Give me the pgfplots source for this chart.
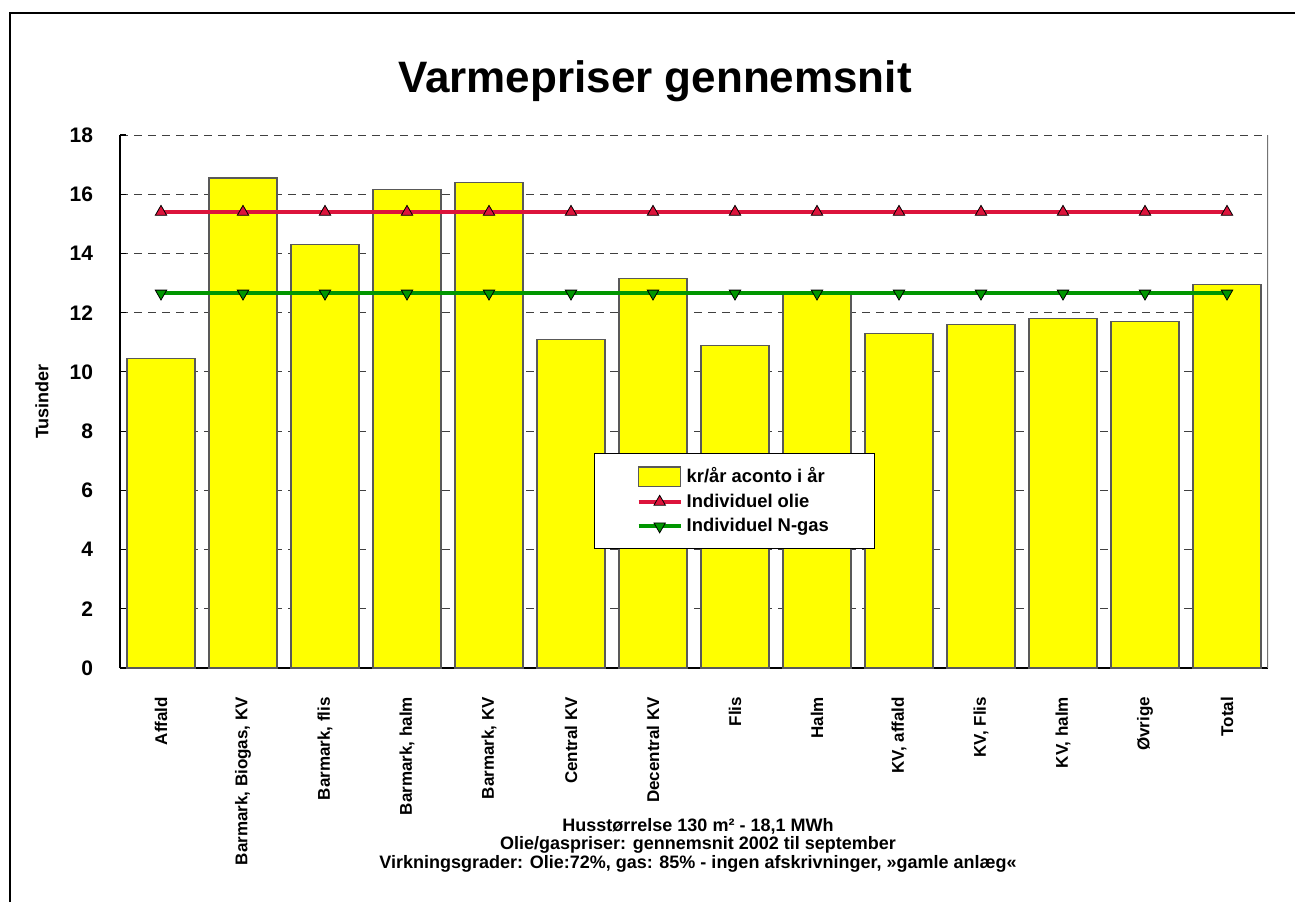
\documentclass[border=0pt]{standalone}
\usepackage{fontspec}
\setmainfont{Liberation Sans}
\usepackage{pgfplots}
\pgfplotsset{compat=1.18}
\definecolor{barfill}{RGB}{255,255,0}
\definecolor{olie}{RGB}{220,20,60}
\definecolor{ngas}{RGB}{0,150,0}
\pgfplotsset{
  boxlegend/.style={legend image code/.code={\draw[##1] (0cm,-0.17cm) rectangle (0.74cm,0.17cm);}},
  linelegend/.style={legend image code/.code={\draw[mark repeat=2,mark phase=2,##1] plot coordinates {(0cm,0cm) (0.37cm,0cm) (0.74cm,0cm)};}},
}
\begin{document}
\begin{tikzpicture}
\path[use as bounding box] (0pt,0pt) rectangle (647.5pt,451pt);
\draw[line width=1pt] (5pt,0pt) -- (5pt,444.5pt) -- (647.5pt,444.5pt);
\node[font=\fontsize{22}{26}\selectfont\bfseries] at (327.5pt,410.5pt) {Varmepriser gennemsnit};
\begin{axis}[
  at={(60pt,117pt)}, anchor=south west,
  scale only axis, width=574pt, height=266.5pt,
  xmin=-0.5, xmax=13.5, ymin=0, ymax=18,
  axis x line*=bottom, axis y line*=left,
  axis line style={black, line width=0.8pt},
  ytick={0,2,...,18},
  xtick={0,...,13},
  xticklabels={Affald,{Barmark, Biogas, KV},{Barmark, flis},{Barmark, halm},{Barmark, KV},Central KV,Decentral KV,Flis,Halm,{KV, affald},{KV, Flis},{KV, halm},Øvrige,Total},
  xtick style={draw=none},
  ytick style={black, line width=0.6pt},
  tick align=inside, major tick length=3pt,
  ymajorgrids, grid style={black!75, dash pattern=on 4pt off 3pt, line width=0.5pt},
  /pgf/number format/assume math mode=true,
  yticklabel style={font=\fontsize{10.5}{12}\selectfont\bfseries, xshift=-10pt},
  xticklabel style={font=\fontsize{8.5}{10}\selectfont\bfseries, rotate=90, anchor=east},
  xticklabel shift=11pt,
  ylabel={Tusinder},
  every axis y label/.style={at={(axis description cs:-0.068,0.5)}, rotate=90, anchor=center,
    font=\fontsize{9}{11}\selectfont\bfseries},
  legend style={at={(0.4129,0.4034)}, anchor=north west, draw=black, line width=0.6pt,
    font=\fontsize{9.2}{11}\selectfont\bfseries, inner xsep=21pt, inner ysep=5pt, row sep=0pt,
    /tikz/every even column/.append style={column sep=2pt}},
  legend cell align=left,
]
\addplot[ybar, bar width=0.83, fill=barfill, draw=black!65, line width=0.6pt, boxlegend]
  coordinates {(0,10.45) (1,16.55) (2,14.3) (3,16.15) (4,16.4) (5,11.1) (6,13.15)
               (7,10.9) (8,12.7) (9,11.3) (10,11.6) (11,11.8) (12,11.7) (13,12.95)};
\addlegendentry{kr/år aconto i år}
\addplot[olie, line width=2pt, mark=triangle*, mark size=3.3pt,
  mark options={fill=olie, draw=black, line width=0.4pt}, linelegend]
  coordinates {(0,15.4) (1,15.4) (2,15.4) (3,15.4) (4,15.4) (5,15.4) (6,15.4)
               (7,15.4) (8,15.4) (9,15.4) (10,15.4) (11,15.4) (12,15.4) (13,15.4)};
\addlegendentry{Individuel olie}
\addplot[ngas, line width=2pt, mark=triangle*, mark size=3.3pt,
  mark options={fill=ngas, draw=black, line width=0.4pt, rotate=180}, linelegend]
  coordinates {(0,12.65) (1,12.65) (2,12.65) (3,12.65) (4,12.65) (5,12.65) (6,12.65)
               (7,12.65) (8,12.65) (9,12.65) (10,12.65) (11,12.65) (12,12.65) (13,12.65)};
\addlegendentry{Individuel N-gas}
\draw[black!55, line width=0.8pt] (rel axis cs:1,0) -- (rel axis cs:1,1);
\end{axis}
\begin{scope}[font=\fontsize{9}{10}\selectfont\bfseries]
\node at (349pt,38pt) {Husstørrelse 130 m² - 18,1 MWh};
\node at (349pt,28.5pt) {Olie/gaspriser: gennemsnit 2002 til september};
\node at (349pt,19pt) {Virkningsgrader: Olie:72\%, gas: 85\% - ingen afskrivninger, »gamle anlæg«};
\end{scope}
\end{tikzpicture}
\end{document}
